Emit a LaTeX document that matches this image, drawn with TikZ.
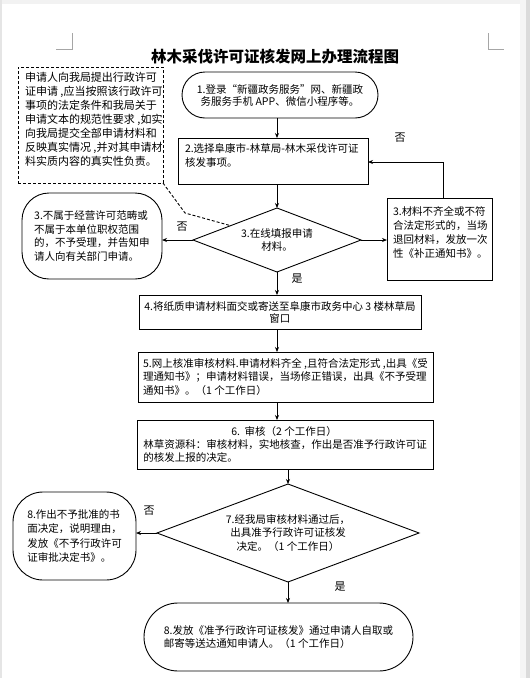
\documentclass[tikz,border=0pt]{standalone}
\usepackage{fontspec}
\setmainfont{Noto Sans CJK SC}
\usetikzlibrary{shapes.geometric,arrows.meta}
\begin{document}
\begin{tikzpicture}[x=1pt,y=-1pt,
  every node/.style={inner sep=0pt,outer sep=0pt},
  shp/.style={draw,line width=0.9pt},
  txt/.style={font=\fontsize{10.5}{13.7}\selectfont,align=left},
  ctxt/.style={font=\fontsize{10.5}{13.7}\selectfont,align=center},
  arr/.style={line width=0.9pt,-{Stealth[length=5pt,width=4pt]}},
  lbl/.style={font=\fontsize{11}{12}\selectfont},
  dia/.style={shp,diamond}]
\useasboundingbox (0,0) rectangle (530,678);
\fill[white] (0,0) rectangle (530,678);
\fill[black!5] (0,0) rectangle (530,4);
\fill[black!4] (520,0) rectangle (526,678);
\fill[black!14] (526,0) rectangle (530,678);
\fill[black!10] (0,0) rectangle (2,678);
% corner marks
\draw[black!35,line width=0.8pt] (72,33) -- (72,49) -- (56,49);
\draw[black!35,line width=0.8pt] (488,33) -- (488,49) -- (504,49);
% title
\node[font=\fontsize{15.5}{17}\selectfont\bfseries] (title) at (275,57) {林木采伐许可证核发网上办理流程图};
% dashed note
\node[draw,line width=0.9pt,dash pattern=on 3pt off 2pt,minimum width=145pt,minimum height=116pt] (note) at (90.5,125) {};
\node[font=\fontsize{11}{14}\selectfont,align=left,anchor=west] (notet) at (25,119) {申请人向我局提出行政许可\\证申请 ,应当按照该行政许可\\事项的法定条件和我局关于\\申请文本的规范性要求 ,如实\\向我局提交全部申请材料和\\反映真实情况 ,并对其申请材\\料实质内容的真实性负责。};
% step 1
\node[shp,rounded corners=23pt,minimum width=196pt,minimum height=46pt,font=\fontsize{10.5}{12}\selectfont,align=center] (s1) at (280,95) {1.登录“新疆政务服务”网、新疆政\\务服务手机 APP、微信小程序等。};
% step 2
\node[shp,minimum width=190pt,minimum height=46pt] (b2) at (273,161) {};
\node[txt,anchor=west] (b2t) at (185,155.5) {2.选择阜康市-林草局-林木采伐许可证\\核发事项。};
% diamond 3
\node[dia,aspect=2.6,minimum width=168pt,minimum height=64pt,ctxt] (d3) at (277,240) {3.在线填报申请\\材料。};
% right box 3
\node[shp,minimum width=105pt,minimum height=82pt] (r3) at (439.5,239) {};
\node[txt,anchor=west] (r3t) at (393,232.5) {3.材料不齐全或不符\\合法定形式的，当场\\退回材料，发放一次\\性《补正通知书》。};
% left box 3
\node[shp,rounded corners=27pt,minimum width=140pt,minimum height=86pt,txt] (l3) at (92,236) {3.不属于经营许可范畴或\\不属于本单位职权范围\\的，不予受理，并告知申\\请人向有关部门申请。};
% box 4
\node[shp,minimum width=282pt,minimum height=34pt,font=\fontsize{10.5}{12}\selectfont,align=center] (b4) at (280,312) {4.将纸质申请材料面交或寄送至阜康市政务中心 3 楼林草局\\窗口};
% box 5
\node[shp,minimum width=295pt,minimum height=50pt,txt] (b5) at (285.5,377) {5.网上核准审核材料.申请材料齐全 ,且符合法定形式 ,出具《受\\理通知书》；申请材料错误，当场修正错误，出具《不予受理\\通知书》。（1 个工作日）};
% box 6
\node[shp,minimum width=296pt,minimum height=49pt,font=\fontsize{10.5}{13}\selectfont,align=left] (b6) at (285,444.5) {\hspace*{88pt}6.\ \ 审核（2 个工作日）\\林草资源科：审核材料，实地核查，作出是否准予行政许可证\\的核发上报的决定。};
% diamond 7
\node[dia,aspect=2.67,minimum width=262pt,minimum height=98pt,ctxt] (d7) at (288,533) {7.经我局审核材料通过后，\\出具准予行政许可证核发\\决定。（1 个工作日）};
% left 8
\node[shp,rounded corners=30pt,minimum width=123pt,minimum height=88pt,font=\fontsize{10.5}{14.5}\selectfont,align=left] (l8) at (74.5,536) {8.作出不予批准的书\\面决定，说明理由，\\发放《不予行政许可\\证审批决定书》。};
% bottom 8
\node[shp,rounded corners=34pt,minimum width=269pt,minimum height=68pt,txt] (s9) at (278.5,637) {8.发放《准予行政许可证核发》通过申请人自取或\\邮寄等送达通知申请人。（1 个工作日）};
% connectors
\coordinate (fb) at (443,162);
\coordinate (dk1) at (185,213);
\coordinate (dk2) at (230,225.5);
\draw[line width=0.9pt,dash pattern=on 3pt off 2pt] (note.south east) -- (dk1) -- (dk2);
\draw[arr] (s1.south -| d3.north) -- (b2.north -| d3.north);
\draw[arr] (b2.south -| d3.north) -- (d3.north);
\draw[arr] (r3.north -| fb) -- (fb) -- (b2.east |- fb);
\draw[arr] (d3.east) -- (d3.east -| r3.west);
\draw[arr] (d3.west) -- (d3.west -| l3.east);
\draw[arr] (d3.south) -- (d3.south |- b4.north);
\draw[arr] (b4.south -| d3.south) -- (b5.north -| d3.south);
\draw[arr] (b5.south -| d3.south) -- (b6.north -| d3.south);
\draw[arr] (b6.south -| d7.north) -- (d7.north);
\draw[arr] (d7.west) -- (d7.west -| l8.east);
\draw[arr] (d7.south) -- (d7.south |- s9.north);
% labels
\node[lbl] (no1) at (400,138) {否};
\node[lbl] (no2) at (182,227) {否};
\node[lbl] (yes1) at (297,279) {是};
\node[lbl] (no3) at (149,511) {否};
\node[lbl] (yes2) at (340,587) {是};
\end{tikzpicture}
\end{document}
